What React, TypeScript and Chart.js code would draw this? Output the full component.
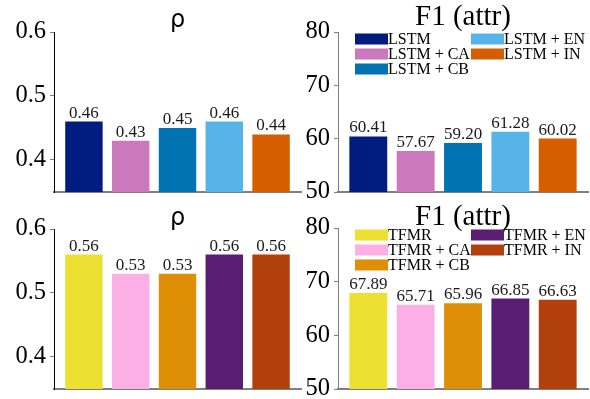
import React, { useEffect, useRef } from 'react';
import { Chart, registerables } from 'chart.js';

Chart.register(...registerables);

const lstmLabels = ['LSTM', 'LSTM + CA', 'LSTM + CB', 'LSTM + EN', 'LSTM + IN'];
const tfmrLabels = ['TFMR', 'TFMR + CA', 'TFMR + CB', 'TFMR + EN', 'TFMR + IN'];
const lstmRho = [0.46, 0.43, 0.45, 0.46, 0.44];
const lstmF1 = [60.41, 57.67, 59.2, 61.28, 60.02];
const tfmrRho = [0.56, 0.53, 0.53, 0.56, 0.56];
const tfmrF1 = [67.89, 65.71, 65.96, 66.85, 66.63];
const lstmColors = ['#001c7f', '#cc78bc', '#0173b2', '#56b4e9', '#d55e00'];
const tfmrColors = ['#ece133', '#fbafe4', '#de8f05', '#591e71', '#b1400d'];
const rhoTicks = [0.4, 0.5, 0.6];
const f1Ticks = [50, 60, 70, 80];
const rhoRange = [0.35, 0.6];
const f1Range = [50, 80];
const rhoTitle = 'ρ';
const f1Title = 'F1 (attr)';

const SERIF = 'Liberation Serif';

type PanelProps = {
  left: number;
  top: number;
  width: number;
  height: number;
  axisWidth: number;
  padTop: number;
  padRight: number;
  padBottom: number;
  values: number[];
  labels: string[];
  colors: string[];
  ticks: number[];
  range: number[];
  tickDigits: number;
  title: string;
  titleFont: string;
  titleBaseline: number;
  spineColor: string;
  legend: boolean;
};

function Panel(p: PanelProps) {
  const ref = useRef<HTMLCanvasElement | null>(null);
  useEffect(() => {
    if (!ref.current) return;
    const idx = p.values.map((_, i) => i);
    const plugin = {
      id: 'extras',
      afterDatasetsDraw(chart: any) {
        const ctx = chart.ctx;
        const meta = chart.getDatasetMeta(0);
        ctx.save();
        ctx.fillStyle = '#1a1a1a';
        ctx.font = `17px "${SERIF}"`;
        ctx.textAlign = 'center';
        ctx.textBaseline = 'alphabetic';
        meta.data.forEach((bar: any, i: number) => {
          ctx.fillText(p.values[i].toFixed(2), bar.x, bar.y - 4);
        });
        ctx.restore();
      },
      afterDraw(chart: any) {
        const ctx = chart.ctx;
        const area = chart.chartArea;
        ctx.save();
        ctx.fillStyle = '#000';
        ctx.font = p.titleFont;
        ctx.textAlign = 'center';
        ctx.textBaseline = 'alphabetic';
        ctx.fillText(p.title, (area.left + area.right) / 2, p.titleBaseline);
        if (p.legend) {
          ctx.font = `16px "${SERIF}"`;
          ctx.textAlign = 'left';
          ctx.textBaseline = 'middle';
          const perCol = 3;
          p.labels.forEach((lab, i) => {
            const col = Math.floor(i / perCol);
            const row = i % perCol;
            const x = area.left + 17 + col * 116;
            const y = area.top + 1.5 + row * 15;
            ctx.fillStyle = p.colors[i];
            ctx.fillRect(x, y, 33, 11);
            ctx.fillStyle = '#000';
            ctx.fillText(lab, x + 33, y + 6.5);
          });
        }
        ctx.restore();
      },
    };
    const chart = new Chart(ref.current, {
      type: 'bar',
      data: {
        labels: p.labels,
        datasets: [
          {
            data: idx.map((i) => ({ x: i, y: p.values[i] })) as any,
            backgroundColor: p.colors,
            borderWidth: 0,
            barPercentage: 0.8,
            categoryPercentage: 1,
          },
        ],
      },
      options: {
        animation: false,
        responsive: false,
        devicePixelRatio: 1,
        layout: { padding: { top: p.padTop, right: p.padRight, bottom: p.padBottom, left: 0 } },
        plugins: { legend: { display: false }, title: { display: false }, tooltip: { enabled: false } },
        scales: {
          x: {
            type: 'linear',
            offset: false,
            min: -0.64,
            max: 4.64,
            ticks: { display: false },
            grid: { display: false, drawTicks: false },
            border: { display: true, color: '#7f7f7f', width: 2 },
            afterBuildTicks: (s: any) => {
              s.ticks = idx.map((i) => ({ value: i }));
            },
            afterFit: (s: any) => {
              s.height = 0;
              s.paddingLeft = 0;
              s.paddingRight = 0;
            },
          },
          y: {
            min: p.range[0],
            max: p.range[1],
            afterBuildTicks: (s: any) => {
              s.ticks = p.ticks.map((v) => ({ value: v }));
            },
            afterFit: (s: any) => {
              s.width = p.axisWidth;
              s.paddingTop = 0;
              s.paddingBottom = 0;
            },
            ticks: {
              color: '#000',
              padding: 4,
              font: { family: SERIF, size: 24.5 },
              callback: (v: any) => Number(v).toFixed(p.tickDigits),
            },
            grid: { drawOnChartArea: false, drawTicks: true, tickLength: 4, color: '#7f7f7f', lineWidth: 1 },
            border: { display: true, color: p.spineColor, width: 1 },
          },
        },
      } as any,
      plugins: [plugin],
    });
    return () => chart.destroy();
  }, []);
  return (
    <canvas
      ref={ref}
      width={p.width}
      height={p.height}
      style={{ position: 'absolute', left: p.left, top: p.top, width: p.width, height: p.height, display: 'block' }}
    />
  );
}

export default function App() {
  const rhoFont = "24px 'DejaVu Sans', sans-serif";
  const f1Font = `29px "${SERIF}"`;
  return (
    <div style={{ position: 'absolute', left: 0, top: 0, width: 590, height: 399, background: '#fff', overflow: 'hidden' }}>
      <Panel left={0} top={0} width={305} height={200} axisWidth={54} padTop={32} padRight={4} padBottom={8}
        values={lstmRho} labels={lstmLabels} colors={lstmColors} ticks={rhoTicks} range={rhoRange} tickDigits={1}
        title={rhoTitle} titleFont={rhoFont} titleBaseline={27} spineColor="#000" legend={false} />
      <Panel left={300} top={0} width={290} height={200} axisWidth={38} padTop={32} padRight={2} padBottom={8}
        values={lstmF1} labels={lstmLabels} colors={lstmColors} ticks={f1Ticks} range={f1Range} tickDigits={0}
        title={f1Title} titleFont={f1Font} titleBaseline={25} spineColor="#7f7f7f" legend={true} />
      <Panel left={0} top={200} width={305} height={199} axisWidth={54} padTop={29} padRight={4} padBottom={10}
        values={tfmrRho} labels={tfmrLabels} colors={tfmrColors} ticks={rhoTicks} range={rhoRange} tickDigits={1}
        title={rhoTitle} titleFont={rhoFont} titleBaseline={25} spineColor="#000" legend={false} />
      <Panel left={300} top={200} width={290} height={199} axisWidth={38} padTop={28} padRight={2} padBottom={10}
        values={tfmrF1} labels={tfmrLabels} colors={tfmrColors} ticks={f1Ticks} range={f1Range} tickDigits={0}
        title={f1Title} titleFont={f1Font} titleBaseline={25} spineColor="#7f7f7f" legend={true} />
    </div>
  );
}
